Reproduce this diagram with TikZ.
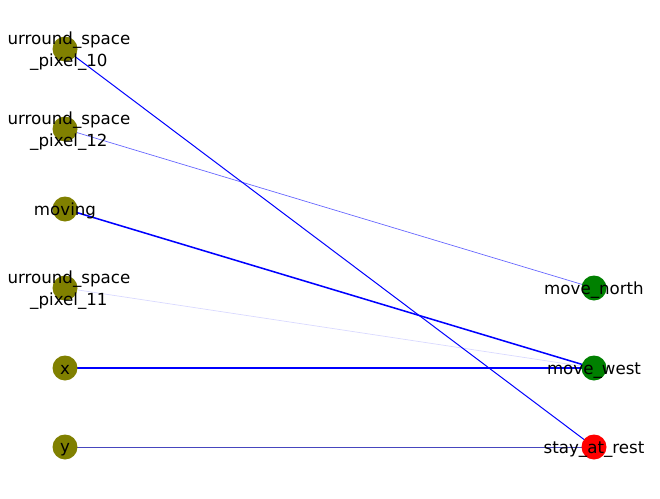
\documentclass[tikz,border=0pt]{standalone}
\usepackage{fontspec}
\setmainfont{DejaVu Sans}
\definecolor{olivec}{RGB}{128,128,0}
\definecolor{greenc}{RGB}{0,128,0}
\definecolor{redc}{RGB}{255,0,0}
\definecolor{edgeb}{RGB}{0,0,255}
\definecolor{edgey}{RGB}{70,70,190}
\tikzset{
  dot/.style={circle,inner sep=0pt,minimum size=18pt},
  lft/.style={dot,fill=olivec},
  rgt/.style={dot,fill=greenc},
  rst/.style={dot,fill=redc},
  lbl/.style={font=\fontsize{12pt}{15.5pt}\selectfont,align=center,inner sep=0pt,yshift=-1.6pt},
  lbltwo/.style={lbl,xshift=2.8pt},
  edge/.style={draw=edgeb}
}
\begin{document}
\begin{tikzpicture}[x=0.72pt,y=-0.72pt]
\useasboundingbox (0,0) rectangle (660,499);
% node positions
\coordinate (p10) at (65,49);
\coordinate (p12) at (65,129);
\coordinate (mov) at (65,209);
\coordinate (p11) at (65,288);
\coordinate (x) at (65,368);
\coordinate (y) at (65,447);
\coordinate (mn) at (594,288);
\coordinate (mw) at (594,368);
\coordinate (sr) at (594,447);
% edges
\draw[edge,line width=0.72pt] (p10) -- (sr);
\draw[edge,line width=0.5pt,draw opacity=0.6] (p12) -- (mn);
\draw[edge,line width=1.1pt] (mov) -- (mw);
\draw[edge,line width=0.5pt,draw opacity=0.15] (p11) -- (mw);
\draw[edge,line width=1.5pt] (x) -- (mw);
\draw[draw=edgey,line width=0.6pt] (y) -- (sr);
% nodes
\node[lft] (n10) at (p10) {};
\node[lft] (n12) at (p12) {};
\node[lft] (nmov) at (mov) {};
\node[lft] (n11) at (p11) {};
\node[lft] (nx) at (x) {};
\node[lft] (ny) at (y) {};
\node[rgt] (nmn) at (mn) {};
\node[rgt] (nmw) at (mw) {};
\node[rst] (nsr) at (sr) {};
% labels
\node[lbltwo] (t10) at (p10) {urround\_space\\\_pixel\_10};
\node[lbltwo] (t12) at (p12) {urround\_space\\\_pixel\_12};
\node[lbl] (tmov) at (mov) {moving};
\node[lbltwo] (t11) at (p11) {urround\_space\\\_pixel\_11};
\node[lbl] (tx) at (x) {x};
\node[lbl] (ty) at (y) {y};
\node[lbl] (tmn) at (mn) {move\_north};
\node[lbl] (tmw) at (mw) {move\_west};
\node[lbl] (tsr) at (sr) {stay\_at\_rest};
\end{tikzpicture}
\end{document}
